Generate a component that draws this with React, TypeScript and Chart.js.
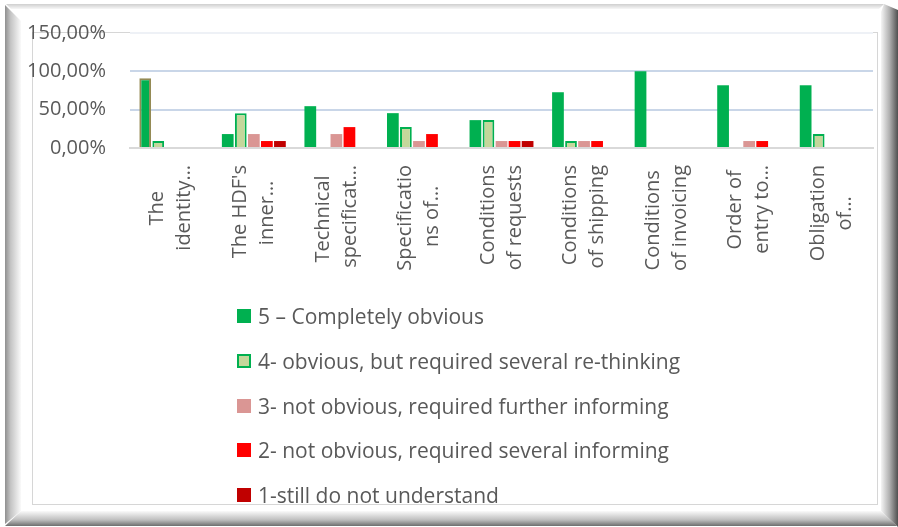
import React, { useEffect, useRef } from "react";
import { Chart, registerables } from "chart.js";

Chart.register(...registerables);

const W = 898;
const H = 527;

// ---- data ----
const categories: string[][] = [
  ["The", "identity…"],
  ["The HDF's", "inner…"],
  ["Technical", "specificat…"],
  ["Specificatio", "ns of…"],
  ["Conditions", "of requests"],
  ["Conditions", "of shipping"],
  ["Conditions", "of invoicing"],
  ["Order of", "entry to…"],
  ["Obligation", "of…"],
];

const seriesNames = [
  "5 – Completely obvious",
  "4- obvious, but required several re-thinking",
  "3- not obvious, required further informing",
  "2- not obvious, required several informing",
  "1-still do not understand",
];

const s5 = [0.9091, 0.1818, 0.5455, 0.4545, 0.3636, 0.7273, 1.0, 0.8182, 0.8182];
const s4 = [0.0909, 0.4545, 0, 0.2727, 0.3636, 0.0909, 0, 0, 0.1818];
const s3 = [0, 0.1818, 0.1818, 0.0909, 0.0909, 0.0909, 0, 0.0909, 0];
const s2 = [0, 0.0909, 0.2727, 0.1818, 0.0909, 0.0909, 0, 0.0909, 0];
const s1 = [0, 0.0909, 0, 0, 0.0909, 0, 0, 0, 0];

const yTicks = [0, 0.5, 1, 1.5];

// ---- styles ----
const FONT = "'Open Sans', sans-serif";
const TEXT = "#595959";
const fills = ["#00b050", "#c4d79b", "#da9694", "#ff0000", "#c00000"];
const borders = ["#00b050", "#00b050", "#da9694", "#ff0000", "#c00000"];
const X_FONT = 20;
const X_LH = 1.35;

function centerLines(lines: string[], px: number): string[] {
  const c = document.createElement("canvas").getContext("2d")!;
  c.font = `${px}px ${FONT}`;
  const ws = lines.map((l) => c.measureText(l).width);
  const max = Math.max(...ws);
  const sp = c.measureText(" ").width;
  return lines.map((l, i) => l + " ".repeat(Math.max(0, Math.round((max - ws[i]) / 2 / sp))));
}

const framePlugin = {
  id: "frame",
  beforeDraw(chart: any) {
    const ctx: CanvasRenderingContext2D = chart.ctx;
    ctx.save();
    // top band
    let g = ctx.createLinearGradient(0, 4, 0, 9);
    g.addColorStop(0, "#cfcfcf");
    g.addColorStop(1, "#f7f7f7");
    ctx.fillStyle = g;
    ctx.beginPath();
    ctx.moveTo(6, 4);
    ctx.lineTo(884, 4);
    ctx.lineTo(879, 9);
    ctx.lineTo(11, 9);
    ctx.closePath();
    ctx.fill();
    // left band
    g = ctx.createLinearGradient(5, 0, 21, 0);
    g.addColorStop(0, "#8f8f8f");
    g.addColorStop(0.35, "#c4c4c4");
    g.addColorStop(1, "#fafafa");
    ctx.fillStyle = g;
    ctx.beginPath();
    ctx.moveTo(5, 5);
    ctx.lineTo(21, 21);
    ctx.lineTo(21, 511);
    ctx.lineTo(5, 524);
    ctx.closePath();
    ctx.fill();
    // bottom band
    g = ctx.createLinearGradient(0, 511, 0, 526);
    g.addColorStop(0, "#fafafa");
    g.addColorStop(0.6, "#bdbdbd");
    g.addColorStop(1, "#6e6e6e");
    ctx.fillStyle = g;
    ctx.beginPath();
    ctx.moveTo(21, 511);
    ctx.lineTo(881, 511);
    ctx.lineTo(897, 526);
    ctx.lineTo(5, 526);
    ctx.closePath();
    ctx.fill();
    // right band
    g = ctx.createLinearGradient(881, 0, 898, 0);
    g.addColorStop(0, "#f5f5f5");
    g.addColorStop(0.5, "#b0b0b0");
    g.addColorStop(1, "#505050");
    ctx.fillStyle = g;
    ctx.beginPath();
    ctx.moveTo(884, 4);
    ctx.lineTo(898, 10);
    ctx.lineTo(898, 527);
    ctx.lineTo(881, 511);
    ctx.lineTo(881, 12);
    ctx.closePath();
    ctx.fill();
    // inner thin rectangle
    ctx.strokeStyle = "#d6d6d6";
    ctx.lineWidth = 1;
    ctx.strokeRect(32.5, 32.5, 845, 472);
    ctx.restore();
  },
};

export default function App() {
  const ref = useRef<HTMLCanvasElement>(null);

  useEffect(() => {
    const series = [s5, s4, s3, s2, s1];
    const datasets = series.map((data, i) => ({
      label: seriesNames[i],
      data,
      backgroundColor: fills[i],
      borderColor:
        i === 0 ? data.map((_, j) => (j === 0 ? "#948a54" : borders[0])) : borders[i],
      borderWidth: i === 0 ? data.map((_, j) => (j === 0 ? 2 : 0)) : i === 1 ? 2 : 0,
      categoryPercentage: 0.79,
      barPercentage: 0.9,
    }));

    const chart = new Chart(ref.current!, {
      type: "bar",
      data: {
        labels: categories.map((c) => centerLines(c, X_FONT)),
        datasets,
      },
      plugins: [framePlugin],
      options: {
        animation: false,
        responsive: false,
        devicePixelRatio: 1,
        layout: { padding: { top: 33, right: 25, left: 0, bottom: 0 } },
        plugins: {
          legend: { display: false },
          tooltip: { enabled: false },
        },
        scales: {
          x: {
            grid: { display: false, drawTicks: false },
            border: { display: true, color: "#d9d9d9", width: 2 },
            ticks: {
              autoSkip: false,
              minRotation: 90,
              maxRotation: 90,
              padding: 17,
              labelOffset: -(X_FONT * X_LH) / 2,
              color: TEXT,
              font: { family: FONT, size: X_FONT, lineHeight: X_LH },
            },
            afterFit: (s: any) => {
              s.height = H - 148;
              s.paddingLeft = 0;
              s.paddingRight = 0;
            },
          },
          y: {
            min: 0,
            max: 1.5,
            afterBuildTicks: (s: any) => {
              s.ticks = yTicks.map((v) => ({ value: v }));
            },
            border: { display: false },
            grid: {
              drawTicks: false,
              lineWidth: 2,
              color: (c: any) =>
                c.tick.value === 0 ? "#d9d9d9" : c.tick.value === 1.5 ? "#eef1f6" : "#c9d6e8",
            },
            ticks: {
              padding: 24,
              color: TEXT,
              font: { family: FONT, size: 20 },
              callback: (v: any) => (Number(v) * 100).toFixed(2).replace(".", ",") + "%",
            },
            afterFit: (s: any) => {
              s.width = 130;
              s.paddingTop = 0;
              s.paddingBottom = 0;
            },
          },
        },
      },
    });
    return () => chart.destroy();
  }, []);

  return (
    <div
      style={{
        position: "fixed",
        left: 0,
        top: 0,
        width: W,
        height: H,
        background: "#fff",
        overflow: "hidden",
      }}
    >
      <canvas ref={ref} width={W} height={H} style={{ position: "absolute", left: 0, top: 0 }} />
      {seriesNames.map((name, i) => (
        <div
          key={name}
          style={{
            position: "absolute",
            left: 237,
            top: 316 + i * 44.75 - 15,
            height: 30,
            display: "flex",
            alignItems: "center",
            fontFamily: FONT,
            fontSize: 21,
            color: TEXT,
            whiteSpace: "nowrap",
          }}
        >
          <span
            style={{
              display: "inline-block",
              width: 14,
              height: 14,
              boxSizing: "border-box",
              background: fills[i],
              border: i === 1 ? `2px solid ${borders[1]}` : "none",
              marginRight: 7,
            }}
          />
          <span>{name}</span>
        </div>
      ))}
    </div>
  );
}
